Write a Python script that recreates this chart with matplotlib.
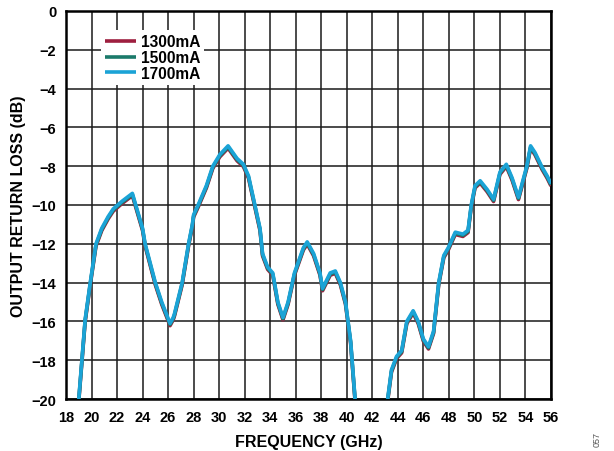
import numpy as np
import matplotlib
matplotlib.use("Agg")
import matplotlib.pyplot as plt

plt.rcParams['font.family'] = ['Liberation Sans', 'DejaVu Sans']
plt.rcParams['font.weight'] = 'bold'

# Frequency (GHz) and output return loss (dB)
freq_a = [19.0, 19.5, 19.9, 20.35, 20.8, 21.3, 21.7, 22.4, 23.2, 24.0, 24.2, 25.0,
          25.5, 26.15, 26.4, 26.5, 27.1, 27.6, 27.9, 28.0, 28.35, 29.0, 29.5, 30.05,
          30.7, 31.4, 31.9, 32.3, 32.8, 33.2, 33.4, 33.8, 34.2, 34.6, 35.0, 35.4,
          35.9, 36.6, 36.9, 37.4, 37.9, 38.1, 38.7, 39.1, 39.5, 39.9, 40.3, 40.65]
rl_a = [-20.0, -15.9, -14.0, -12.0, -11.2, -10.6, -10.2, -9.8, -9.4, -11.2, -12.0, -14.0,
        -15.0, -16.1, -15.8, -15.6, -14.0, -12.0, -11.0, -10.5, -10.0, -9.0, -8.0, -7.4,
        -6.95, -7.6, -7.9, -8.5, -10.0, -11.2, -12.5, -13.2, -13.5, -15.0, -15.8, -15.0,
        -13.5, -12.2, -11.9, -12.5, -13.5, -14.3, -13.5, -13.4, -14.0, -15.0, -17.0, -20.0]

freq_b = [43.2, 43.5, 43.9, 44.3, 44.7, 45.2, 45.6, 46.0, 46.4, 46.8, 47.2, 47.6,
          47.95, 48.5, 49.1, 49.5, 49.75, 50.05, 50.45, 51.0, 51.5, 52.0, 52.5, 52.95,
          53.45, 54.1, 54.4, 54.75, 55.3, 55.7, 56.0]
rl_b = [-20.0, -18.5, -17.8, -17.5, -16.0, -15.45, -16.0, -16.9, -17.3, -16.5, -14.0, -12.6,
        -12.2, -11.4, -11.5, -11.3, -10.0, -9.0, -8.75, -9.2, -9.7, -8.3, -7.9, -8.6,
        -9.6, -8.0, -6.95, -7.3, -8.05, -8.5, -8.9]

series_labels = ['1300mA', '1500mA', '1700mA']
series_offsets = [-0.12, -0.06, 0.0]
series_colors = ['#9e1f3f', '#1b7a6a', '#1ba3d6']

x_ticks = list(range(18, 57, 2))
y_ticks = list(range(-20, 1, 2))

fig = plt.figure(figsize=(6.14, 4.52), dpi=100)
ax = fig.add_axes([66/614, 1-400/452, (551-66)/614, (400-12)/452])

for lab, off, col in zip(series_labels, series_offsets, series_colors):
    fa = np.array(freq_a); fb = np.array(freq_b)
    ra = np.array(rl_a) + off; rb = np.array(rl_b) + off
    f = np.concatenate([fa, [np.nan], fb])
    r = np.concatenate([ra, [np.nan], rb])
    ax.plot(f, r, color=col, lw=2.6, label=lab, solid_joinstyle='round',
            solid_capstyle='butt', zorder=3)

ax.set_xlim(18, 56)
ax.set_ylim(-20, 0)
ax.set_xticks(x_ticks)
ax.set_yticks(y_ticks)
ax.set_yticklabels(['\u2212%d' % abs(v) if v < 0 else '0' for v in y_ticks])
ax.grid(True, color='#1a1a1a', lw=1.1, zorder=1)
ax.tick_params(length=0, labelsize=10.5)
ax.tick_params(axis='x', pad=8)
ax.tick_params(axis='y', pad=7)
for lbl in ax.get_xticklabels() + ax.get_yticklabels():
    lbl.set_fontweight('bold')
for s in ax.spines.values():
    s.set_linewidth(1.8)
    s.set_color('black')

ax.set_xlabel('FREQUENCY (GHz)', fontsize=11.5, fontweight='bold', labelpad=7)
ax.set_ylabel('OUTPUT RETURN LOSS (dB)', fontsize=11.5, fontweight='bold', labelpad=4)

leg = ax.legend(loc='upper left', bbox_to_anchor=(0.072, 0.95), frameon=True,
                fancybox=False, edgecolor='none', framealpha=1.0,
                prop={'weight': 'bold', 'size': 11.2}, handlelength=2.0,
                handletextpad=0.3, labelspacing=0.05, borderpad=0.25, borderaxespad=0)

fig.text(597/614, 1-440/452, '057', rotation=90, fontsize=6.5, color='#555555',
         ha='center', va='center', fontweight='normal')

fig.savefig('out.png', dpi=100)
